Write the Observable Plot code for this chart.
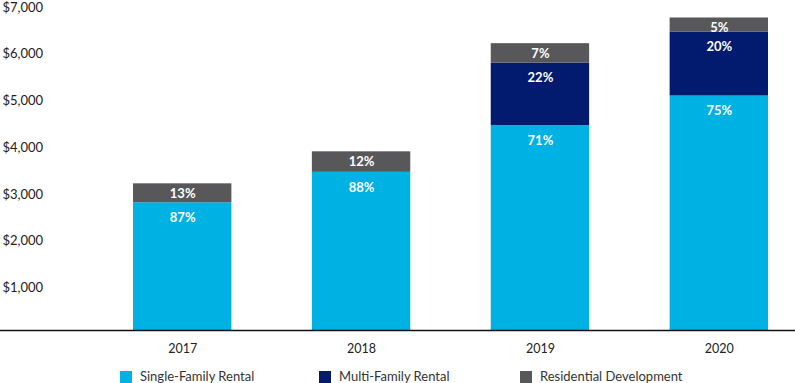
<!DOCTYPE html>
<html>
<head>
<meta charset="utf-8">
<script src="https://cdn.jsdelivr.net/npm/d3@7"></script>
<script src="https://cdn.jsdelivr.net/npm/@observablehq/plot@0.6"></script>
<style>
  body { margin: 0; background: #fff; font-family: Lato, "Open Sans", sans-serif; }
  #wrap { position: relative; width: 795px; height: 383px; }
  #legend { position: relative; width: 795px; height: 19px; }
  .sw { position: absolute; width: 12px; height: 12px; top: 7px; }
  .lt { position: absolute; top: 5px; font-size: 13px; color: #333; line-height: 15px; white-space: nowrap; }
</style>
</head>
<body>
<div id="wrap"><div id="chart"></div><div id="legend"></div></div>
<script>
const years = ["2017", "2018", "2019", "2020"];
const singleFamily = [2735, 3385, 4385, 5020];
const multiFamily = [0, 0, 1340, 1370];
const residentialDev = [405, 440, 415, 300];
const singleLabels = ["87%", "88%", "71%", "75%"];
const multiLabels = ["", "", "22%", "20%"];
const resLabels = ["13%", "12%", "7%", "5%"];
const seriesNames = ["Single-Family Rental", "Multi-Family Rental", "Residential Development"];
const seriesColors = ["#00b2e3", "#021b6e", "#58585b"];
const yTicks = [1000, 2000, 3000, 4000, 5000, 6000, 7000];

const seriesValues = [singleFamily, multiFamily, residentialDev];
const seriesLabels = [singleLabels, multiLabels, resLabels];

const rows = [];
years.forEach((yr, i) => {
  let base = 0;
  seriesNames.forEach((s, k) => {
    const v = seriesValues[k][i];
    if (v > 0) {
      rows.push({year: yr, series: s, y1: base, y2: base + v, label: seriesLabels[k][i], k});
    }
    base += v;
  });
});

const chart = Plot.plot({
  width: 795,
  height: 364,
  marginLeft: 0,
  marginRight: 0,
  marginTop: 3,
  marginBottom: 34,
  style: {fontFamily: "Lato, 'Open Sans', sans-serif", fontSize: "13px", color: "#222", background: "#fff", overflow: "visible"},
  x: {domain: years, range: [133, 768], paddingInner: 0.45, paddingOuter: 0, round: false, label: null, axis: null},
  y: {domain: [0, 7000], label: null, axis: null},
  color: {domain: seriesNames, range: seriesColors},
  marks: [
    Plot.rectY(rows, {x: "year", y1: "y1", y2: "y2", fill: "series"}),
    Plot.ruleY([0], {stroke: "#111", strokeWidth: 1.5}),
    Plot.text(yTicks, {y: d => d, text: d => "$" + d3.format(",")(d), frameAnchor: "left", textAnchor: "start", dx: 2, dy: 4, fontSize: 13, fill: "#222"}),
    Plot.text(years, {x: d => d, text: d => d, frameAnchor: "bottom", dy: 22, fontSize: 12.5, fill: "#222"}),
    Plot.text(rows.filter(d => d.k < 2), {x: "year", y: "y2", text: "label", dy: 15, fill: "white", fontWeight: "bold", fontSize: 13}),
    Plot.text(rows.filter(d => d.k === 2), {x: "year", y: "y2", text: "label", dy: 10, fill: "white", fontWeight: "bold", fontSize: 13})
  ]
});
document.getElementById("chart").appendChild(chart);

const legend = document.getElementById("legend");
const swX = [120, 319, 520];
seriesNames.forEach((s, k) => {
  const sw = document.createElement("div");
  sw.className = "sw";
  sw.style.left = swX[k] + "px";
  sw.style.background = seriesColors[k];
  legend.appendChild(sw);
  const t = document.createElement("div");
  t.className = "lt";
  t.style.left = (swX[k] + 20) + "px";
  t.textContent = s;
  legend.appendChild(t);
});
</script>
</body>
</html>
